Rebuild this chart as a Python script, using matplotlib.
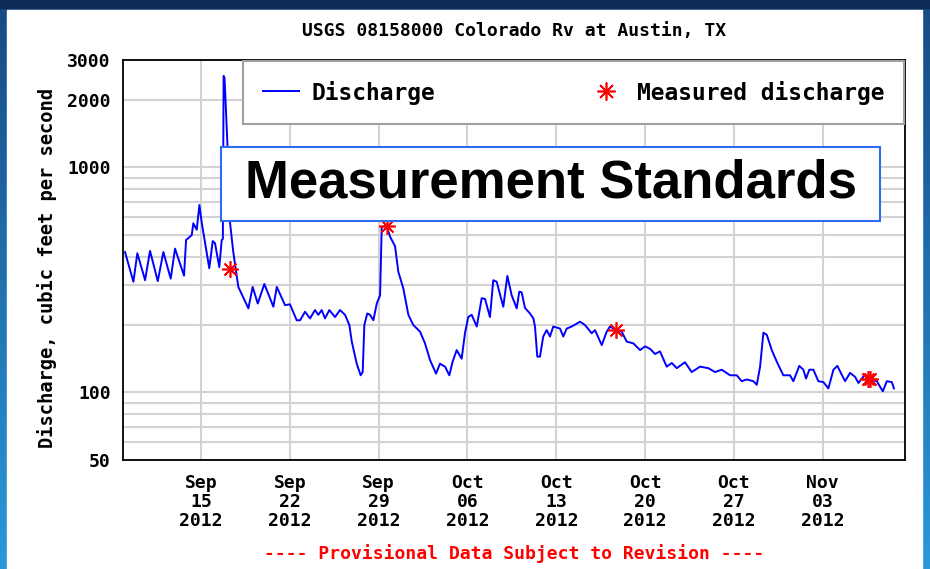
import numpy as np
import matplotlib.pyplot as plt
from matplotlib.patches import Rectangle
from matplotlib.lines import Line2D
from matplotlib.colors import LinearSegmentedColormap
from matplotlib.ticker import NullFormatter

# time in days after 2012-09-01 00:00
t_days = [8.01, 8.67, 8.98, 9.59, 9.98, 10.59, 11.03, 11.61, 11.95, 12.66,
          12.82, 13.27, 13.39, 13.66, 13.87, 14.06, 14.32, 14.65, 14.92, 15.10,
          15.44, 15.63, 15.72, 15.78, 15.85, 15.93, 16.07, 16.21, 16.29, 16.52,
          16.68, 16.94, 17.73, 18.07, 18.47, 18.99, 19.70, 19.97, 20.62, 21.01,
          21.54, 21.80, 22.20, 22.59, 22.98, 23.24, 23.51, 23.77, 24.11, 24.56,
          24.95, 25.35, 25.69, 25.88, 26.27, 26.58, 26.74, 26.87, 27.10, 27.32,
          27.58, 27.85, 28.11, 28.24, 28.63, 28.89, 29.29, 29.55, 29.94, 30.34,
          30.73, 31.26, 31.65, 32.05, 32.52, 32.83, 33.23, 33.57, 33.83, 34.15,
          34.54, 34.80, 35.06, 35.33, 35.73, 36.12, 36.38, 36.77, 37.03, 37.30,
          37.82, 38.14, 38.48, 38.88, 39.08, 39.27, 39.53, 39.93, 40.19, 40.32,
          40.50, 40.71, 40.97, 41.24, 41.50, 41.76, 42.29, 42.55, 42.82, 43.21,
          43.87, 44.26, 44.79, 45.05, 45.58, 45.97, 46.23, 46.71, 47.15, 47.55,
          48.07, 48.60, 48.99, 49.39, 49.78, 50.17, 50.70, 51.10, 51.49, 52.14,
          52.67, 53.33, 53.98, 54.51, 55.04, 55.69, 56.22, 56.61, 57.01, 57.53,
          57.80, 58.06, 58.32, 58.59, 58.98, 59.37, 59.89, 60.42, 60.68, 61.15,
          61.47, 61.68, 61.94, 62.26, 62.65, 63.05, 63.44, 63.84, 64.15, 64.42,
          64.76, 65.15, 65.55, 65.81, 66.33, 66.67, 67.26, 67.73, 68.05, 68.44,
          68.61]
# discharge, cubic feet per second
discharge = [420, 310, 415, 315, 425, 312, 420, 320, 435, 330,
             475, 500, 564, 528, 680, 565, 460, 356, 470, 460,
             360, 475, 480, 2550, 2500, 2000, 1300, 800, 564, 430,
             370, 294, 236, 294, 248, 303, 240, 294, 244, 246,
             209, 209, 228, 213, 232, 221, 232, 213, 232, 216,
             232, 221, 199, 168, 134, 119, 123, 199, 224, 221,
             209, 248, 270, 544, 550, 493, 446, 343, 290, 221,
             199, 186, 165, 139, 121, 134, 130, 119, 137, 154,
             141, 183, 216, 221, 196, 262, 260, 216, 315, 310,
             240, 329, 270, 236, 280, 278, 237, 224, 213, 196,
             144, 144, 177, 189, 177, 196, 192, 177, 192, 196,
             206, 199, 183, 189, 162, 186, 196, 189, 186, 168,
             165, 154, 160, 156, 148, 152, 130, 135, 128, 136,
             123, 130, 128, 123, 126, 119, 119, 112, 114, 112,
             108, 130, 184, 180, 154, 137, 119, 119, 112, 131,
             126, 115, 126, 126, 112, 111, 104, 126, 131, 122,
             112, 122, 117, 110, 120, 114, 112, 101, 112, 111,
             104]

meas_days = [16.25, 28.63, 46.70, 66.60, 66.72]
meas_q = [355, 546, 189, 114, 114]

tick_days = [14, 21, 28, 35, 42, 49, 56, 63]
tick_labels = ["Sep\n15\n2012", "Sep\n22\n2012", "Sep\n29\n2012", "Oct\n06\n2012",
               "Oct\n13\n2012", "Oct\n20\n2012", "Oct\n27\n2012", "Nov\n03\n2012"]
y_major = [50, 100, 1000, 2000, 3000]
y_minor = [60, 70, 80, 90, 200, 300, 400, 500, 600, 700, 800, 900]

mono = 'DejaVu Sans Mono'
fs = 13
W, H = 930, 569

fig = plt.figure(figsize=(W / 100, H / 100), dpi=100)

# slide background
bg = fig.add_axes([0, 0, 1, 1], zorder=-10)
bg.axis('off')
cmap = LinearSegmentedColormap.from_list('slide', ['#174a84', '#2a98da'])
bg.imshow(np.linspace(0, 1, 256).reshape(-1, 1), cmap=cmap, aspect='auto',
          extent=[0, 1, 0, 1], origin='upper')
bg.add_patch(Rectangle((0, 1 - 8 / H), 1, 8 / H, color='#0e2b57'))
bg.add_patch(Rectangle((7 / W, 0), 915 / W, 1 - 10 / H, color='white'))
bg.set_xlim(0, 1)
bg.set_ylim(0, 1)

ax = fig.add_axes([123 / W, 1 - 460 / H, 782 / W, 400 / H])
ax.plot(t_days, discharge, color='#0000ff', lw=1.4, zorder=3)
star = (8, 2, 0)
ax.plot(meas_days, meas_q, ls='none', marker=star, ms=12, mec='red', mew=1.2, zorder=4)

ax.set_yscale('log')
ax.set_ylim(50, 3000)
ax.set_xlim(7.85, 69.48)
ax.set_yticks(y_major)
ax.set_yticklabels([str(v) for v in y_major])
ax.set_yticks(y_minor, minor=True)
ax.yaxis.set_minor_formatter(NullFormatter())
ax.set_xticks(tick_days)
ax.set_xticklabels(tick_labels, linespacing=1.07)
ax.tick_params(which='both', length=0)
ax.tick_params(axis='y', pad=9)
ax.tick_params(axis='x', pad=10)
for lab in ax.get_xticklabels() + ax.get_yticklabels():
    lab.set_fontfamily(mono)
    lab.set_fontweight('bold')
    lab.set_fontsize(fs)
ax.grid(True, which='both', color='#d3d3d3', lw=1.5)
ax.set_axisbelow(True)
for s in ax.spines.values():
    s.set_linewidth(1.3)
    s.set_color('black')

ax.set_ylabel('Discharge, cubic feet per second', fontfamily=mono,
              fontweight='bold', fontsize=13.5)
ax.yaxis.set_label_coords(-0.084, 0.48)
ax.set_title('USGS 08158000 Colorado Rv at Austin, TX', fontfamily=mono,
             fontweight='bold', fontsize=fs, pad=17)

handles = [Line2D([], [], color='#0000ff', lw=1.4),
           Line2D([], [], ls='none', marker=star, ms=13, mec='red', mew=1.2)]
leg = ax.legend(handles, ['Discharge', 'Measured discharge'], ncol=2,
                loc='lower left', bbox_to_anchor=(0.1535, 0.84, 0.845, 0.155),
                mode='expand', fancybox=False, framealpha=1, edgecolor='#a0a0a0',
                borderpad=0.85, borderaxespad=0, handlelength=1.6, handletextpad=0.55,
                prop=dict(family=mono, weight='bold', size=16.5))
leg.get_frame().set_linewidth(1.5)
leg.set_zorder(5)

ax.add_patch(Rectangle((0.1253, 0.5975), 0.8427, 0.185, transform=ax.transAxes,
                       facecolor='white', edgecolor='#2f6bf0', lw=1.5, zorder=6))
ax.text(0.5467, 0.655, 'Measurement Standards', transform=ax.transAxes,
        ha='center', va='baseline', fontsize=38, fontweight='bold',
        fontfamily='Liberation Sans', zorder=7)

fig.text(514 / W, 1 - 554 / H, '---- Provisional Data Subject to Revision ----',
         color='red', ha='center', va='center', fontfamily=mono,
         fontweight='bold', fontsize=fs)

fig.savefig('out.png', dpi=100)
